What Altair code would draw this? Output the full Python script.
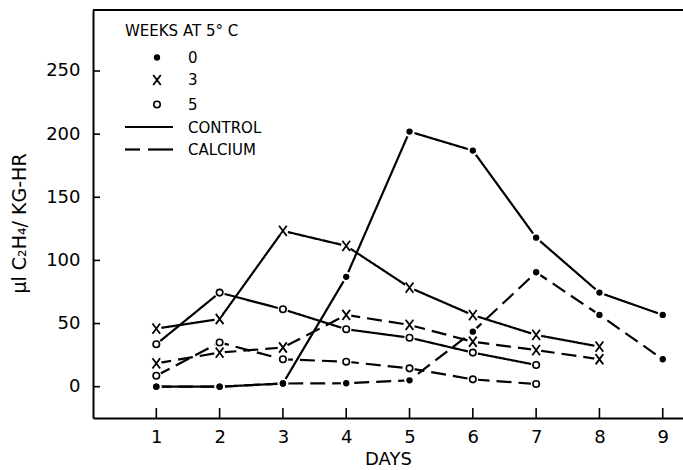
import altair as alt
import pandas as pd

# ---- data ----
days = [1, 2, 3, 4, 5, 6, 7, 8, 9]
w0_control = [0, 0, 2.5, 87, 202, 187, 118, 74.5, 56.8]
w0_calcium = [0, 0, 2.5, 2.7, 5, 43.6, 90.6, 56.8, 21.7]
w3_control = [46, 53.6, 123.4, 111.5, 78.5, 56.7, 41, 31.7]
w3_calcium = [18.5, 27, 31, 56.8, 48.9, 35.6, 29, 21.7]
w5_control = [33.6, 74.5, 61.3, 45.5, 38.8, 27, 17.2]
w5_calcium = [8.7, 35, 21.7, 19.8, 14.5, 5.8, 2.1]

y_ticks = [0, 50, 100, 150, 200, 250]
x_ticks = days
legend_title = "WEEKS  AT  5° C"
legend_weeks = ["0", "3", "5"]
legend_treat = ["CONTROL", "CALCIUM"]

rows = []
for weeks, treat, vals in [
    ("0", "CONTROL", w0_control), ("0", "CALCIUM", w0_calcium),
    ("3", "CONTROL", w3_control), ("3", "CALCIUM", w3_calcium),
    ("5", "CONTROL", w5_control), ("5", "CALCIUM", w5_calcium),
]:
    for d, v in zip(days, vals):
        rows.append({"day": d, "value": v, "weeks": weeks, "treatment": treat,
                     "series": weeks + "-" + treat})
df = pd.DataFrame(rows)

W, H = 590, 408
xscale = alt.Scale(domain=[0, 9.32], nice=False, zero=False)
yscale = alt.Scale(domain=[-24.8, 298.3], nice=False, zero=False)
XPATH = "M-0.75,-1L0.75,1M0.75,-1L-0.75,1"

xaxis = alt.Axis(values=x_ticks, title="DAYS", ticks=False, tickSize=0,
                 labelPadding=10, grid=False, domainWidth=2,
                 domainColor="black", labelFontSize=18,
                 titleFontSize=18, titleFontWeight="normal",
                 titlePadding=4, labelColor="black", titleColor="black")
yaxis = alt.Axis(values=y_ticks, title="µl  C₂H₄/ KG-HR", ticks=False,
                 tickSize=0, labelPadding=13, grid=False, domainWidth=2,
                 domainColor="black", labelFontSize=18,
                 titleFontSize=19, titleFontWeight="normal",
                 titleAngle=270, titleX=-74, titleY=213,
                 titleAlign="center", titleBaseline="middle",
                 labelColor="black", titleColor="black")


def X(field):
    return alt.X(field, scale=xscale, axis=xaxis)


def Y(field):
    return alt.Y(field, scale=yscale, axis=yaxis)


base = alt.Chart(df)

lines = base.mark_line(strokeWidth=2.2, color="black").encode(
    x=X("day:Q"),
    y=Y("value:Q"),
    strokeDash=alt.StrokeDash("treatment:N",
                              scale=alt.Scale(domain=["CONTROL", "CALCIUM"],
                                              range=[[1, 0], [15, 7]]),
                              legend=None),
    detail="series:N",
    order="day:Q",
)

halo = base.mark_point(shape="circle", filled=True, fill="white", color="white",
                       opacity=1, size=110).encode(x=X("day:Q"), y=Y("value:Q"))

dots = base.transform_filter(alt.datum.weeks == "0").mark_point(
    shape="circle", filled=True, color="black", size=40, opacity=1).encode(
    x=X("day:Q"), y=Y("value:Q"))
crosses = base.transform_filter(alt.datum.weeks == "3").mark_point(
    shape=XPATH, filled=False, color="black", size=105, strokeWidth=1.8,
    opacity=1).encode(x=X("day:Q"), y=Y("value:Q"))
opens = base.transform_filter(alt.datum.weeks == "5").mark_point(
    shape="circle", filled=False, stroke="black", fill="white", size=42,
    strokeWidth=1.6, opacity=1).encode(x=X("day:Q"), y=Y("value:Q"))

# inward tick marks
tick_df = pd.DataFrame({"day": x_ticks})
xt = alt.Chart(tick_df).mark_rule(color="black", strokeWidth=1.6).encode(
    x=X("day:Q"), y=alt.value(H), y2=alt.value(H - 10))
ytick_df = pd.DataFrame({"value": y_ticks})
yt = alt.Chart(ytick_df).mark_rule(color="black", strokeWidth=1.6).encode(
    y=Y("value:Q"), x=alt.value(0), x2=alt.value(7))

one = pd.DataFrame({"k": [0]})
top_border = alt.Chart(one).mark_rule(color="black", strokeWidth=2).encode(
    x=alt.value(0), x2=alt.value(W), y=alt.value(0))

# legend
leg = []
leg.append(alt.Chart(one).mark_text(align="left", baseline="middle", fontSize=15,
                                    font="DejaVu Sans", color="black",
                                    text=legend_title).encode(
    x=alt.value(32), y=alt.value(20.5)))
wk_y = [47.5, 70, 94.5]
for lab, yy in zip(legend_weeks, wk_y):
    leg.append(alt.Chart(one).mark_text(align="left", baseline="middle", fontSize=15,
                                        font="DejaVu Sans", color="black",
                                        text=lab).encode(
        x=alt.value(95), y=alt.value(yy)))
leg.append(alt.Chart(one).mark_point(shape="circle", filled=True, color="black",
                                     size=40, opacity=1).encode(
    x=alt.value(64), y=alt.value(wk_y[0])))
leg.append(alt.Chart(one).mark_point(shape=XPATH, filled=False, color="black",
                                     size=100, strokeWidth=1.8, opacity=1).encode(
    x=alt.value(64), y=alt.value(wk_y[1])))
leg.append(alt.Chart(one).mark_point(shape="circle", filled=False, stroke="black",
                                     size=42, strokeWidth=1.6, opacity=1).encode(
    x=alt.value(64), y=alt.value(wk_y[2])))
tr_y = [117.5, 140]
for lab, yy in zip(legend_treat, tr_y):
    leg.append(alt.Chart(one).mark_text(align="left", baseline="middle", fontSize=15,
                                        font="DejaVu Sans", color="black",
                                        text=lab).encode(
        x=alt.value(95), y=alt.value(yy)))
leg.append(alt.Chart(one).mark_rule(color="black", strokeWidth=2.2).encode(
    x=alt.value(32), x2=alt.value(80), y=alt.value(tr_y[0] - 0.5)))
leg.append(alt.Chart(one).mark_rule(color="black", strokeWidth=2.2).encode(
    x=alt.value(32), x2=alt.value(47), y=alt.value(tr_y[1] - 0.5)))
leg.append(alt.Chart(one).mark_rule(color="black", strokeWidth=2.2).encode(
    x=alt.value(55), x2=alt.value(80), y=alt.value(tr_y[1] - 0.5)))

chart = alt.layer(lines, halo, dots, crosses, opens, xt, yt, top_border, *leg).properties(
    width=W, height=H,
    autosize=alt.AutoSizeParams(type="none"),
    padding={"left": 93, "top": 10, "right": 0, "bottom": 52},
    background="white",
).configure_view(stroke=None).configure(font="DejaVu Sans")

chart.save("out.html", embed_options={"renderer": "svg", "actions": False})
